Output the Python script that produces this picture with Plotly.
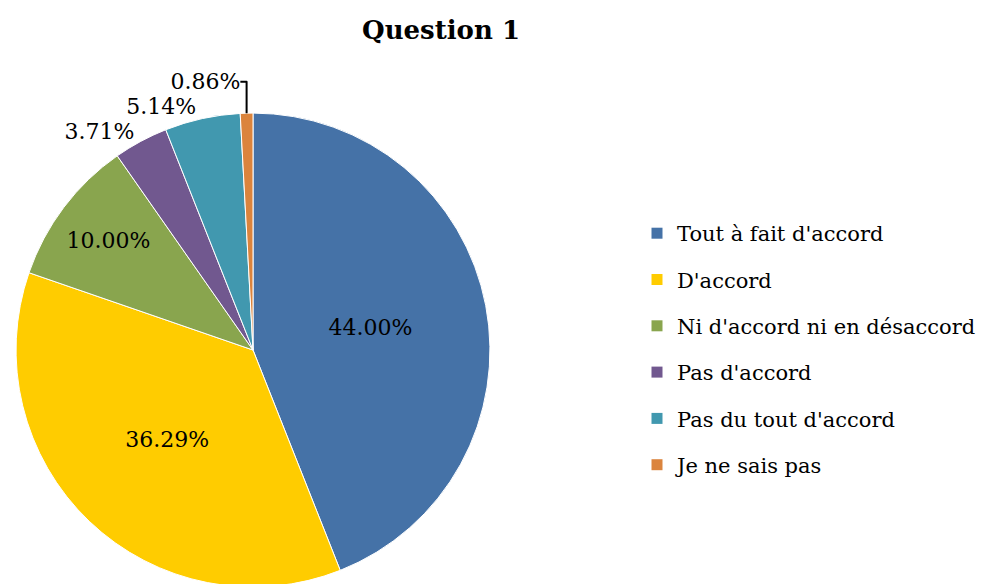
import plotly.graph_objects as go

labels = ["Tout à fait d'accord", "D'accord", "Ni d'accord ni en désaccord",
          "Pas d'accord", "Pas du tout d'accord", "Je ne sais pas"]
values = [44.00, 36.29, 10.00, 3.71, 5.14, 0.86]
colors = ["#4572A7", "#FFCC00", "#89A54E", "#71588F", "#4198AF", "#DB843D"]
text_pos = ["inside", "inside", "inside", "outside", "outside", "outside"]

FONT = "DejaVu Serif"

fig = go.Figure()
fig.add_trace(go.Pie(
    labels=labels,
    values=values,
    sort=False,
    direction="clockwise",
    rotation=0,
    marker=dict(colors=colors, line=dict(color="white", width=1)),
    texttemplate="%{value:.2f}%",
    textposition=text_pos,
    insidetextorientation="horizontal",
    textfont=dict(family=FONT, size=22, color="black"),
    showlegend=False,
    hoverinfo="label+value",
    domain=dict(x=[6 / 993, 484 / 993], y=[0, 478 / 584]),
))

# legend entries as separate items so they can be spaced out
for lab, col in zip(labels, colors):
    fig.add_trace(go.Scatter(
        x=[None], y=[None], mode="markers", name=lab, legendgroup=lab,
        marker=dict(symbol="square", size=11, color=col),
    ))

fig.update_layout(
    width=993, height=584,
    paper_bgcolor="white", plot_bgcolor="white",
    margin=dict(l=0, r=0, t=0, b=0),
    title=dict(text="<b>Question 1</b>", x=433 / 993, xanchor="center",
               y=1 - 22 / 584, yanchor="middle", yref="container",
               font=dict(family=FONT, size=26, color="black")),
    xaxis=dict(visible=False), yaxis=dict(visible=False),
    legend=dict(x=(661 - 32) / 993, xanchor="left", y=1 - 344 / 584, yanchor="middle",
                traceorder="grouped", tracegroupgap=16,
                font=dict(family=FONT, size=21, color="black")),
)

fig.write_html("out.html")
